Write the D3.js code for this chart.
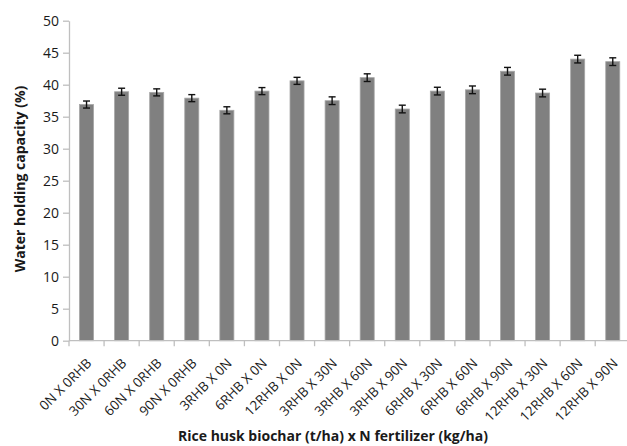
<!DOCTYPE html>
<html>
<head>
<meta charset="utf-8">
<script src="https://cdn.jsdelivr.net/npm/d3@7"></script>
<style>
  html, body { margin: 0; padding: 0; background: #fff; }
  svg { display: block; }
  text { font-family: "Open Sans", Lato, "Liberation Sans", sans-serif; fill: #1a1a1a; }
</style>
</head>
<body>
<svg id="chart" width="627" height="446"></svg>
<script>
// Treatments (rice husk biochar x N fertilizer)
const categories = [
  "0N X 0RHB", "30N X 0RHB", "60N X 0RHB", "90N X 0RHB",
  "3RHB X 0N", "6RHB X 0N", "12RHB X 0N",
  "3RHB X 30N", "3RHB X 60N", "3RHB X 90N",
  "6RHB X 30N", "6RHB X 60N", "6RHB X 90N",
  "12RHB X 30N", "12RHB X 60N", "12RHB X 90N"
];
// Water holding capacity (%) means
const values = [36.9, 38.9, 38.8, 37.9, 36.0, 39.0, 40.6, 37.5, 41.1, 36.2, 39.0, 39.2, 42.1, 38.7, 44.0, 43.6];
// Standard errors
const errors = [0.55, 0.55, 0.55, 0.55, 0.55, 0.55, 0.55, 0.6, 0.6, 0.6, 0.6, 0.6, 0.6, 0.6, 0.6, 0.6];
const yTicks = [0, 5, 10, 15, 20, 25, 30, 35, 40, 45, 50];

const svg = d3.select("#chart");
const plotL = 69, plotR = 630.3, plotT = 20.7, plotB = 340.7;

const x = d3.scaleBand().domain(categories).range([plotL, plotR]).paddingInner(0.6).paddingOuter(0.3);
const y = d3.scaleLinear().domain([0, 50]).range([plotB, plotT]);
const step = x.step();

// Y axis
const yAxis = svg.append("g").attr("transform", `translate(${plotL},0)`)
  .call(d3.axisLeft(y).tickValues(yTicks).tickSize(6).tickPadding(4).tickSizeOuter(0));
yAxis.select(".domain").attr("stroke", "#bfbfbf").attr("stroke-width", 1.3);
yAxis.selectAll(".tick line").attr("stroke", "#bfbfbf").attr("stroke-width", 1.3);
yAxis.selectAll(".tick text").attr("font-size", 14).attr("fill", "#1a1a1a")
  .attr("x", -10)
  .style("font-family", "'Open Sans', Lato, sans-serif");

// Bars
svg.append("g").selectAll("rect").data(values).join("rect")
  .attr("x", (d, i) => x(categories[i]))
  .attr("y", d => y(d))
  .attr("width", x.bandwidth())
  .attr("height", d => y(0) - y(d))
  .attr("fill", "#808080")
  .attr("stroke", "#a6a6a6")
  .attr("stroke-width", 0.8);

// X axis (category boundaries as ticks)
const xg = svg.append("g");
xg.append("line").attr("x1", plotL).attr("x2", plotR).attr("y1", plotB).attr("y2", plotB)
  .attr("stroke", "#bfbfbf").attr("stroke-width", 1.3);
xg.selectAll("line.tk").data(d3.range(categories.length + 1)).join("line")
  .attr("class", "tk")
  .attr("x1", i => plotL + i * step).attr("x2", i => plotL + i * step)
  .attr("y1", plotB).attr("y2", plotB + 5.5)
  .attr("stroke", "#bfbfbf").attr("stroke-width", 1.3);

// Error bars
const eb = svg.append("g").attr("stroke", "#111").attr("stroke-width", 1.4);
values.forEach((v, i) => {
  const cx = x(categories[i]) + x.bandwidth() / 2;
  const y1 = y(v + errors[i]), y0 = y(v - errors[i]);
  eb.append("line").attr("x1", cx).attr("x2", cx).attr("y1", y1).attr("y2", y0);
  eb.append("line").attr("x1", cx - 3.5).attr("x2", cx + 3.5).attr("y1", y1).attr("y2", y1);
  eb.append("line").attr("x1", cx - 3.5).attr("x2", cx + 3.5).attr("y1", y0).attr("y2", y0);
});

// Category labels, rotated
svg.append("g").selectAll("text").data(categories).join("text")
  .attr("transform", d => `translate(${x(d) + x.bandwidth() / 2 + 2.5},${plotB + 20}) rotate(-45)`)
  .attr("text-anchor", "end")
  .attr("dy", "0.35em")
  .attr("font-size", 13.4)
  .text(d => d);

// Axis titles
svg.append("text")
  .attr("x", 333).attr("y", 441)
  .attr("text-anchor", "middle").attr("font-size", 14).attr("font-weight", "bold")
  .text("Rice husk biochar (t/ha) x N fertilizer (kg/ha)");

svg.append("text")
  .attr("transform", `translate(24.5,179) rotate(-90)`)
  .attr("text-anchor", "middle").attr("font-size", 14).attr("font-weight", "bold")
  .text("Water holding capacity (%)");
</script>
</body>
</html>
